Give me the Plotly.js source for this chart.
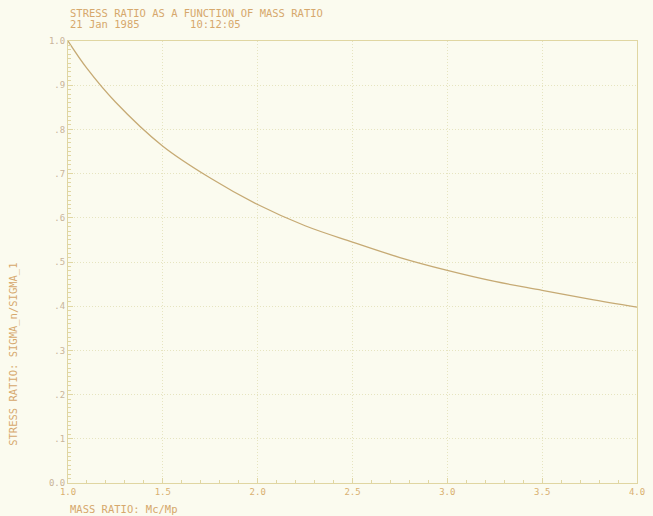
<!DOCTYPE html>
<html>
<head>
<meta charset="utf-8">
<script src="https://cdn.plot.ly/plotly-3.0.1.min.js"></script>
<style>html,body{margin:0;padding:0;background:#fbfbef;}#chart{width:653px;height:516px;}</style>
</head>
<body>
<div id="chart"></div>
<script>
const massRatio = [1.0, 1.1, 1.25, 1.5, 1.75, 2.0, 2.25, 2.5, 2.75, 3.0, 3.25, 3.5, 3.75, 4.0];
const stressRatio = [1.0, 0.938, 0.862, 0.762, 0.690, 0.630, 0.582, 0.545, 0.510, 0.481, 0.456, 0.436, 0.416, 0.398];
const xTickVals = [1.0, 1.5, 2.0, 2.5, 3.0, 3.5, 4.0];
const xTickText = ['1.0', '1.5', '2.0', '2.5', '3.0', '3.5', '4.0'];
const yTickVals = [0, 0.1, 0.2, 0.3, 0.4, 0.5, 0.6, 0.7, 0.8, 0.9, 1.0];
const yTickText = ['0.0', '.1', '.2', '.3', '.4', '.5', '.6', '.7', '.8', '.9', '1.0'];

const txt = '#d6a86c';
const axisCol = '#e0d6a2';
const gridCol = '#e6e4c0';
const mono = '"DejaVu Sans Mono", "Liberation Mono", monospace';

const trace = {
  x: massRatio, y: stressRatio, type: 'scatter', mode: 'lines',
  line: {color: '#c6aa74', width: 1.3, shape: 'spline', smoothing: 1},
  hoverinfo: 'none'
};

const layout = {
  width: 653, height: 516,
  paper_bgcolor: '#fbfbef', plot_bgcolor: '#fbfbef',
  margin: {l: 68, r: 16, t: 41, b: 33},
  showlegend: false,
  font: {family: mono, size: 9, color: txt},
  xaxis: {
    range: [1, 4], tickmode: 'array', tickvals: xTickVals, ticktext: xTickText,
    showgrid: true, gridcolor: gridCol, griddash: '1px,2px', gridwidth: 1,
    showline: true, linecolor: axisCol, linewidth: 1, mirror: true,
    ticks: 'inside', ticklen: 5, tickcolor: axisCol,
    minor: {dtick: 0.1, ticks: 'inside', ticklen: 3, tickcolor: axisCol, showgrid: false},
    zeroline: false, tickfont: {family: mono, size: 9, color: '#d9b070'}
  },
  yaxis: {
    range: [0, 1], tickmode: 'array', tickvals: yTickVals, ticktext: yTickText,
    showgrid: true, gridcolor: gridCol, griddash: '1px,2px', gridwidth: 1,
    showline: true, linecolor: axisCol, linewidth: 1, mirror: true,
    ticks: 'inside', ticklen: 5, tickcolor: axisCol,
    minor: {dtick: 0.01, ticks: 'inside', ticklen: 3, tickcolor: axisCol, showgrid: false},
    zeroline: false, tickfont: {family: mono, size: 9, color: '#c9b49a'}
  },
  annotations: [
    {text: 'STRESS RATIO AS A FUNCTION OF MASS RATIO', xref: 'paper', yref: 'paper',
     x: 0, y: 1, xshift: 0, yshift: 28, xanchor: 'left', yanchor: 'middle', showarrow: false,
     font: {family: mono, size: 10.5, color: txt}},
    {text: '21 Jan 1985        10:12:05', xref: 'paper', yref: 'paper',
     x: 0, y: 1, yshift: 17, xanchor: 'left', yanchor: 'middle', showarrow: false,
     font: {family: mono, size: 10.5, color: txt}},
    {text: 'MASS RATIO: Mc/Mp', xref: 'paper', yref: 'paper',
     x: 0, y: 0, yshift: -26, xanchor: 'left', yanchor: 'middle', showarrow: false,
     font: {family: mono, size: 10.5, color: txt}},
    {text: 'STRESS RATIO: SIGMA_n/SIGMA_1', xref: 'paper', yref: 'paper',
     x: 0, y: 0.29, xshift: -54, xanchor: 'center', yanchor: 'middle', textangle: -90, showarrow: false,
     font: {family: mono, size: 10.5, color: txt}}
  ]
};

Plotly.newPlot('chart', [trace], layout, {displayModeBar: false, staticPlot: true});
</script>
</body>
</html>
